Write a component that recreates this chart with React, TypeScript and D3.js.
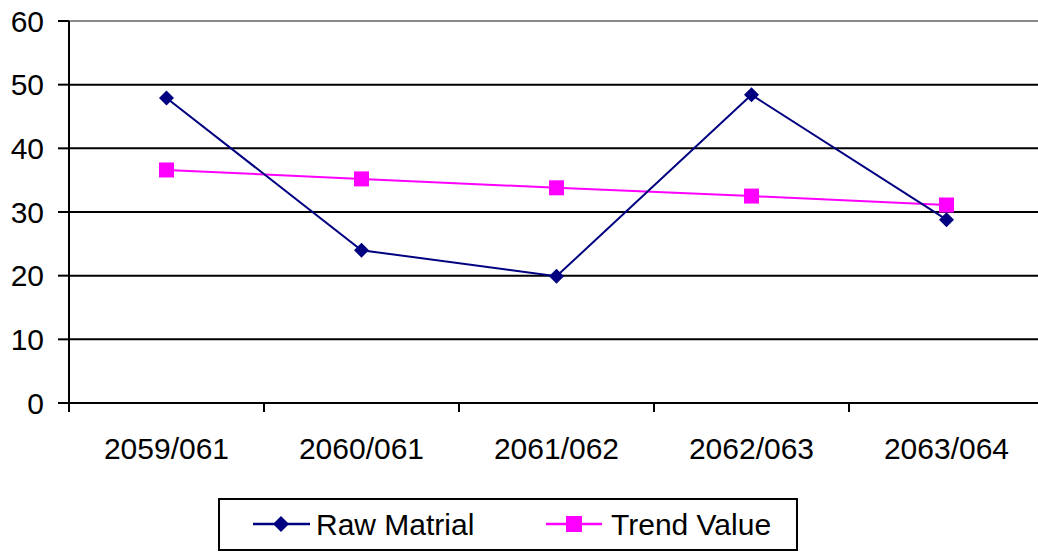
import React from "react";
import * as d3 from "d3";

const categories = ["2059/061", "2060/061", "2061/062", "2062/063", "2063/064"];
const rawMaterial = [47.9, 24.0, 19.9, 48.4, 28.8];
const trendValue = [36.6, 35.2, 33.8, 32.5, 31.1];
const yTicks = [0, 10, 20, 30, 40, 50, 60];

const W = 1038, H = 552;
const left = 69, right = 1044, top = 21, bottom = 403;
const FONT = "'Liberation Sans', Arial, sans-serif";

export default function App() {
  const x = d3.scaleBand<string>().domain(categories).range([left, right]);
  const y = d3.scaleLinear().domain([0, 60]).range([bottom, top]);
  const cx = (c: string) => (x(c) as number) + x.bandwidth() / 2;
  const line = d3.line<number>().x((_, i) => cx(categories[i])).y((d) => y(d));
  const diamond = (px: number, py: number, r = 7.5) =>
    `M${px},${py - r}L${px + r},${py}L${px},${py + r}L${px - r},${py}Z`;
  const sq = 15;
  return (
    <svg width={W} height={H} style={{ position: "absolute", left: 0, top: 0, background: "#fff" }} fontFamily={FONT}>
      {yTicks.map((t) => (
        <g key={t}>
          {t > 0 && (
            <line x1={left} x2={W} y1={y(t)} y2={y(t)} stroke={t === 60 ? "#888" : "#000"} strokeWidth={2} />
          )}
          <line x1={58} x2={left} y1={y(t)} y2={y(t)} stroke="#000" strokeWidth={2} />
          <text x={44} y={y(t)} dy="0.35em" textAnchor="end" fontSize={30} fill="#000">{t}</text>
        </g>
      ))}
      <line x1={left} x2={W} y1={bottom} y2={bottom} stroke="#000" strokeWidth={2} />
      <line x1={left} x2={left} y1={top} y2={bottom + 9} stroke="#000" strokeWidth={2} />
      {categories.map((c) => (
        <g key={c}>
          <line x1={(x(c) as number) + x.bandwidth()} x2={(x(c) as number) + x.bandwidth()} y1={bottom} y2={bottom + 9} stroke="#000" strokeWidth={2} />
          <text x={cx(c)} y={459} textAnchor="middle" fontSize={30} fill="#000">{c}</text>
        </g>
      ))}
      <path d={line(trendValue) || ""} fill="none" stroke="#FF00FF" strokeWidth={2} />
      <path d={line(rawMaterial) || ""} fill="none" stroke="#000080" strokeWidth={2} />
      {trendValue.map((v, i) => (
        <rect key={"t" + i} x={cx(categories[i]) - sq / 2} y={y(v) - sq / 2} width={sq} height={sq} fill="#FF00FF" />
      ))}
      {rawMaterial.map((v, i) => (
        <path key={"r" + i} d={diamond(cx(categories[i]), y(v))} fill="#000080" />
      ))}
      <g>
        <rect x={219} y={499} width={578} height={51} fill="#fff" stroke="#000" strokeWidth={2} />
        <line x1={253} x2={310} y1={524} y2={524} stroke="#000080" strokeWidth={2.5} />
        <path d={diamond(281, 524, 8)} fill="#000080" />
        <text x={316} y={535} fontSize={30} fill="#000">Raw Matrial</text>
        <line x1={546} x2={602} y1={524} y2={524} stroke="#FF00FF" strokeWidth={2.5} />
        <rect x={574 - 8} y={524 - 8} width={16} height={16} fill="#FF00FF" />
        <text x={611} y={535} fontSize={30} fill="#000">Trend Value</text>
      </g>
    </svg>
  );
}
